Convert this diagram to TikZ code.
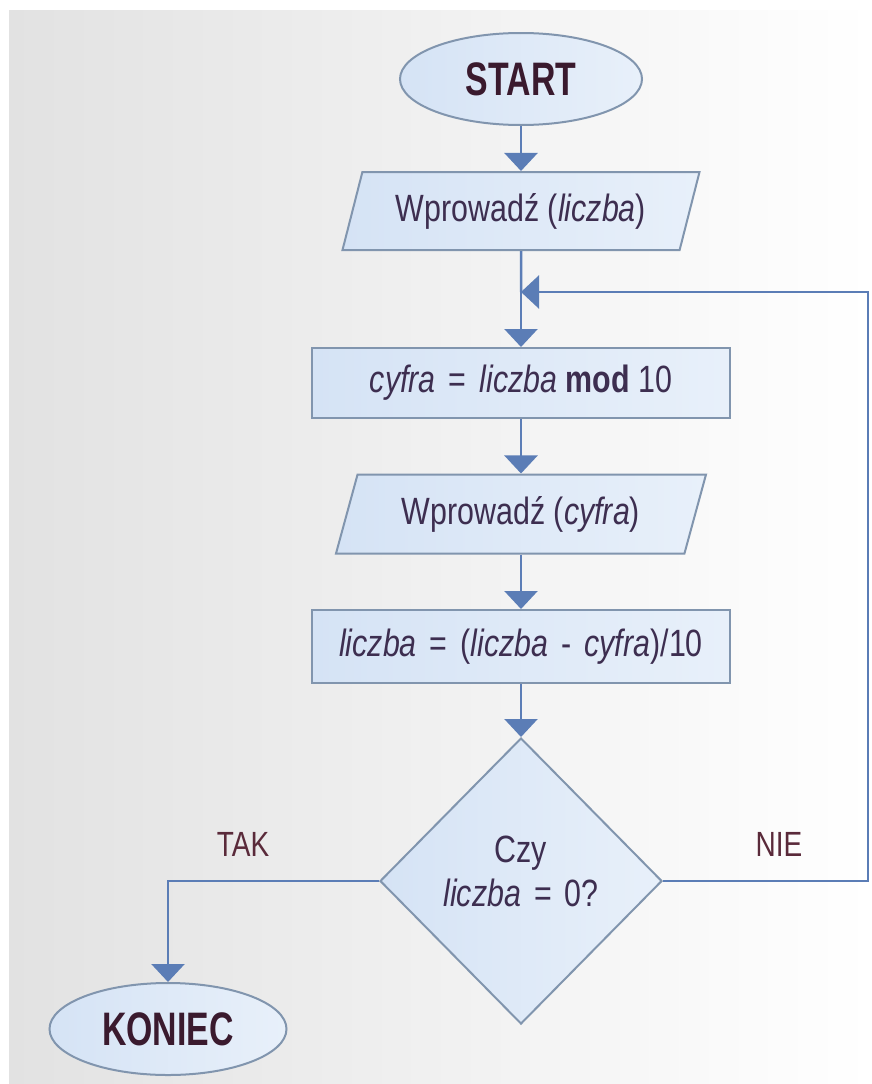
\documentclass[tikz,border=0pt]{standalone}
\usepackage{fontspec}
\setmainfont{Liberation Sans}[FakeStretch=0.8]
\newfontfamily\termfont{Liberation Sans}[FakeStretch=0.72]
\usetikzlibrary{shapes.geometric,arrows.meta,calc}
\definecolor{linec}{HTML}{5B7DB6}
\definecolor{bordc}{HTML}{8195AE}
\definecolor{filla}{HTML}{D5E3F5}
\definecolor{fillb}{HTML}{E8F0FA}
\definecolor{txtA}{HTML}{3A1A2E}
\definecolor{txtB}{HTML}{3D2E50}
\definecolor{txtC}{HTML}{5A2A3A}
\definecolor{bgg}{HTML}{E2E2E2}
\newcommand{\opsp}{\hspace{13pt}}
\begin{document}
\begin{tikzpicture}[x=1pt,y=-1pt,
  shp/.style={draw=bordc,line width=2pt,left color=filla,right color=fillb,inner sep=0pt,text=txtB,
    font=\fontsize{38}{42}\selectfont},
  term/.style={shp,ellipse,text=txtA,font=\termfont\fontsize{47}{50}\selectfont\bfseries},
  iobox/.style={shp,trapezium,trapezium stretches body,font=\fontsize{38}{42}\selectfont},
  procbox/.style={shp,rectangle,minimum width=418pt},
  decbox/.style={shp,diamond,minimum width=282pt,minimum height=286pt},
  dectext/.style={text=txtB,align=center,inner sep=0pt,font=\fontsize{38}{44}\selectfont},
  arr/.style={draw=linec,line width=2.5pt,-{Triangle[width=33pt,length=18pt]}},
  ln/.style={draw=linec,line width=2.5pt},
  lbl/.style={text=txtC,font=\fontsize{35}{38}\selectfont}
]
\useasboundingbox (0,0) rectangle (872,1084);
\fill[white] (0,0) rectangle (872,1084);
\shade[left color=bgg,right color=white] (9,10) rectangle (872,1084);

\node[term,minimum width=242pt,minimum height=92pt] (start) at (521,79) {START};
\node[iobox,trapezium left angle=61,trapezium right angle=119,minimum width=357pt,minimum height=78pt] (in1) at (521,211) {Wprowadź (\textit{liczba})};
\node[procbox,minimum height=70pt] (p1) at (521,383) {\textit{cyfra}\opsp=\opsp\textit{liczba} \textbf{mod} 10};
\node[iobox,trapezium left angle=59,trapezium right angle=121,minimum width=370pt,minimum height=79pt] (out1) at (521,514) {Wprowadź (\textit{cyfra})};
\node[procbox,minimum height=73pt] (p2) at (521,646.5) {\textit{liczba}\opsp=\opsp(\textit{liczba}\opsp-\opsp\textit{cyfra})/10};
\node[decbox] (dec) at (521,881) {};
\node[dectext] (dectxt) at (521,871) {Czy\\\textit{liczba}\opsp=\opsp0?};
\node[term,minimum width=237pt,minimum height=92pt] (end) at (168,1029) {KONIEC};

\node[lbl] (tak) at (243,844) {TAK};
\node[lbl] (nie) at (779,844) {NIE};

\coordinate (j) at (521,292);
\coordinate (rt) at (868,881);

\draw[arr] (start) -- (in1);
\draw[ln] (in1.south) -- (j);
\draw[arr] (j) -- (p1);
\draw[arr] (p1) -- (out1);
\draw[arr] (out1) -- (p2);
\draw[arr] (p2) -- (dec);
\draw[arr] (dec.west) -| (end.north);
\draw[arr] (dec.east) -- (rt) |- (j);
\end{tikzpicture}
\end{document}
